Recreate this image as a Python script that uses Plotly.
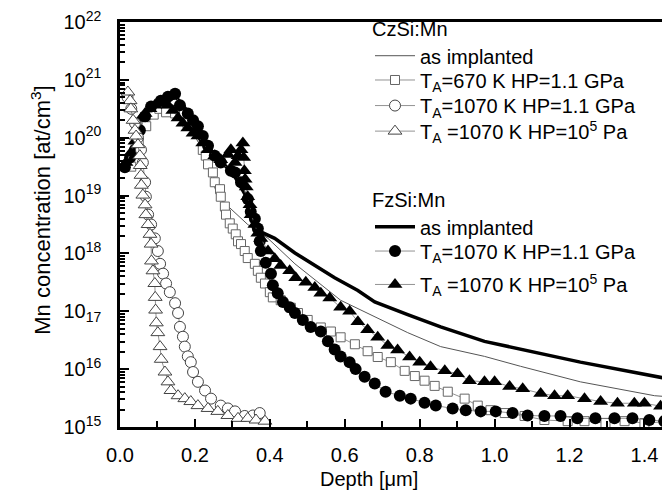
import plotly.graph_objects as go

# ---------------- data ----------------
# CzSi:Mn as implanted (thin line)
cz_imp_x = [0.18, 0.22, 0.261, 0.341, 0.395, 0.467, 0.589, 0.68, 0.768, 0.856, 0.973, 1.069, 1.229, 1.427, 1.49]
cz_imp_y = [1.78e20, 6.31e19, 9.55e18, 3.16e18, 1.82e18, 6.61e17, 1.55e17, 7.94e16, 4.27e16, 2.45e16, 1.66e16, 1.12e16, 6.03e15, 3.47e15, 3.24e15]

# CzSi:Mn TA=670 K HP=1.1 GPa (open squares)
cz670_x = [0.03, 0.05, 0.07, 0.09, 0.105, 0.123, 0.147, 0.18, 0.221, 0.229, 0.235, 0.248, 0.253, 0.267, 0.269,
           0.28, 0.283, 0.293, 0.301, 0.309, 0.315, 0.323, 0.333, 0.341, 0.36, 0.368, 0.376, 0.387, 0.40, 0.408,
           0.429, 0.456, 0.475, 0.501, 0.536, 0.563, 0.589, 0.627, 0.661, 0.688, 0.723, 0.76, 0.787, 0.813, 0.84,
           0.875, 0.92, 0.955, 0.989, 1.027, 1.08, 1.133, 1.195, 1.24, 1.296, 1.347, 1.40, 1.461]
cz670_y = [3.16e19, 7.94e19, 1.58e20, 2.51e20, 3.16e20, 2.75e20, 2.63e20, 1.78e20, 6.17e19, 4.90e19, 3.47e19, 2.51e19, 1.70e19, 1.29e19, 9.55e18,
           6.46e18, 4.68e18, 3.31e18, 2.69e18, 2.14e18, 1.62e18, 1.45e18, 1.10e18, 8.32e17, 6.61e17, 5.01e17, 3.80e17, 3.02e17, 2.14e17, 1.74e17,
           1.55e17, 1.15e17, 9.33e16, 7.08e16, 5.25e16, 4.47e16, 3.55e16, 2.69e16, 2.04e16, 1.62e16, 1.32e16, 9.33e15, 7.59e15, 6.31e15, 5.13e15,
           4.07e15, 3.09e15, 2.34e15, 1.95e15, 1.74e15, 1.55e15, 1.32e15, 1.26e15, 1.26e15, 1.17e15, 1.26e15, 1.17e15, 1.23e15]

# CzSi:Mn TA=1070 K HP=1.1 GPa (open circles)
cz1070hp_x = [0.02, 0.03, 0.04, 0.048, 0.056, 0.061, 0.067, 0.069, 0.075, 0.083, 0.093, 0.101, 0.107, 0.115, 0.123,
              0.133, 0.147, 0.155, 0.16, 0.168, 0.173, 0.181, 0.189, 0.195, 0.208, 0.227, 0.243, 0.269, 0.288, 0.307,
              0.333, 0.355, 0.373]
cz1070hp_y = [5.01e20, 3.16e20, 1.78e20, 1.0e20, 6.17e19, 3.72e19, 1.70e19, 9.55e18, 4.68e18, 3.16e18, 1.82e18, 1.10e18, 6.61e17, 4.47e17, 3.02e17,
              2.14e17, 1.38e17, 9.33e16, 5.37e16, 3.63e16, 2.45e16, 1.66e16, 1.32e16, 8.91e15, 6.03e15, 4.27e15, 3.09e15, 2.34e15, 2.09e15, 1.86e15,
              1.55e15, 1.58e15, 1.74e15]

# CzSi:Mn TA=1070 K HP=10^5 Pa (open triangles)
cz1070at_x = [0.021, 0.027, 0.029, 0.035, 0.04, 0.043, 0.048, 0.053, 0.054, 0.056, 0.057, 0.061, 0.067, 0.069, 0.075,
              0.08, 0.083, 0.084, 0.088, 0.093, 0.094, 0.095, 0.097, 0.101, 0.107, 0.11, 0.12, 0.128, 0.136, 0.155,
              0.173, 0.189, 0.208, 0.235, 0.261, 0.288, 0.315, 0.341, 0.363, 0.387]
cz1070at_y = [6.17e20, 4.37e20, 3.16e20, 2.0e20, 1.35e20, 1.07e20, 7.59e19, 4.90e19, 3.31e19, 2.24e19, 1.51e19, 1.02e19, 6.92e18, 4.68e18, 3.16e18,
              2.14e18, 1.45e18, 7.41e17, 5.01e17, 3.02e17, 1.74e17, 1.05e17, 6.31e16, 4.27e16, 2.45e16, 1.48e16, 8.91e15, 6.03e15, 4.27e15, 3.47e15,
              3.09e15, 2.75e15, 2.34e15, 2.09e15, 1.86e15, 1.58e15, 1.41e15, 1.41e15, 1.32e15, 1.26e15]

# FzSi:Mn as implanted (thick line)
fz_imp_x = [0.02, 0.06, 0.10, 0.15, 0.20, 0.25, 0.30, 0.34, 0.373, 0.413, 0.467, 0.52, 0.573, 0.635, 0.68, 0.768, 0.856, 0.973, 1.229, 1.49]
fz_imp_y = [3.55e19, 1.58e20, 3.98e20, 5.01e20, 2.0e20, 5.01e19, 2.51e19, 8.91e18, 2.40e18, 1.82e18, 1.02e18, 6.17e17, 3.80e17, 2.29e17, 1.45e17, 8.71e16, 5.37e16, 3.02e16, 1.32e16, 6.31e15]

# FzSi:Mn TA=1070 K HP=1.1 GPa (filled circles)
fz1070hp_x = [0.013, 0.027, 0.04, 0.053, 0.067, 0.083, 0.109, 0.128, 0.147, 0.16, 0.181, 0.195, 0.208, 0.221, 0.235,
              0.253, 0.269, 0.296, 0.307, 0.323, 0.341, 0.349, 0.36, 0.368, 0.373, 0.376, 0.389, 0.403, 0.408, 0.421,
              0.435, 0.453, 0.467, 0.488, 0.509, 0.536, 0.555, 0.573, 0.589, 0.613, 0.629, 0.653, 0.68, 0.709, 0.747,
              0.776, 0.813, 0.843, 0.888, 0.923, 0.963, 1.003, 1.048, 1.088, 1.133, 1.176, 1.221, 1.269, 1.32, 1.368,
              1.413, 1.453]
fz1070hp_y = [3.09e19, 4.57e19, 6.17e19, 1.35e20, 2.34e20, 3.47e20, 4.37e20, 5.13e20, 5.75e20, 3.63e20, 2.63e20, 2.0e20, 1.58e20, 1.07e20, 7.24e19,
              4.90e19, 3.72e19, 2.69e19, 2.51e19, 1.70e19, 8.71e18, 5.25e18, 3.98e18, 2.69e18, 1.62e18, 1.10e18, 6.92e17, 4.47e17, 2.82e17, 2.04e17,
              1.45e17, 1.17e17, 9.33e16, 7.08e16, 5.37e16, 4.47e16, 3.02e16, 2.19e16, 1.66e16, 1.32e16, 1.0e16, 7.41e15, 5.62e15, 4.07e15, 3.47e15,
              3.09e15, 2.63e15, 2.34e15, 2.09e15, 1.95e15, 1.86e15, 1.86e15, 1.74e15, 1.58e15, 1.55e15, 1.55e15, 1.41e15, 1.41e15, 1.41e15, 1.41e15,
              1.32e15, 1.26e15]

# FzSi:Mn TA=1070 K HP=10^5 Pa (filled triangles)
fz1070at_x = [0.016, 0.029, 0.04, 0.048, 0.056, 0.067, 0.08, 0.093, 0.109, 0.128, 0.141, 0.155, 0.168, 0.181, 0.195,
              0.208, 0.221, 0.235, 0.253, 0.269, 0.288, 0.296, 0.307, 0.315, 0.323, 0.328, 0.33, 0.332, 0.334, 0.337,
              0.341, 0.347, 0.35, 0.36, 0.368, 0.376, 0.395, 0.413, 0.429, 0.453, 0.469, 0.496, 0.52, 0.536, 0.56,
              0.589, 0.613, 0.635, 0.661, 0.688, 0.715, 0.741, 0.773, 0.80, 0.829, 0.867, 0.901, 0.933, 0.973, 1.0,
              1.04, 1.075, 1.123, 1.16, 1.195, 1.24, 1.283, 1.328, 1.373, 1.40, 1.443, 1.48]
fz1070at_y = [3.72e19, 5.50e19, 8.71e19, 1.48e20, 2.14e20, 2.63e20, 3.16e20, 3.63e20, 3.89e20, 3.63e20, 2.95e20, 2.19e20, 1.78e20, 1.48e20, 1.20e20,
              1.07e20, 8.13e19, 6.17e19, 4.90e19, 4.17e19, 5.13e19, 6.17e19, 3.72e19, 4.90e19, 6.17e19, 8.13e19, 4.57e19, 2.69e19, 1.91e19, 1.41e19,
              9.55e18, 6.92e18, 4.68e18, 3.16e18, 2.24e18, 1.82e18, 1.10e18, 8.13e17, 6.17e17, 5.01e17, 3.80e17, 3.16e17, 2.57e17, 2.04e17, 1.70e17,
              1.17e17, 1.0e17, 6.61e16, 4.79e16, 3.55e16, 2.57e16, 2.14e16, 1.62e16, 1.32e16, 1.10e16, 9.33e15, 8.32e15, 6.31e15, 6.03e15, 6.03e15,
              5.01e15, 4.57e15, 3.80e15, 3.47e15, 3.47e15, 3.09e15, 2.75e15, 2.57e15, 2.57e15, 2.57e15, 2.29e15, 2.09e15]

y_tick_vals = [1e15, 1e16, 1e17, 1e18, 1e19, 1e20, 1e21, 1e22]
y_tick_text = ["10<sup>15</sup>", "10<sup>16</sup>", "10<sub>17</sub>", "10<sup>18</sup>",
               "10<sup>19</sup>", "10<sup>20</sup>", "10<sup>21</sup>", "10<sup>22</sup>"]
x_tick_vals = [0.0, 0.2, 0.4, 0.6, 0.8, 1.0, 1.2, 1.4]
x_tick_text = ["0.0", "0.2", "0.4", "0.6", "0.8", "1.0", "1.2", "1.4"]

FONT = "Liberation Sans, Arial, sans-serif"

fig = go.Figure()

# lines first (drawn below markers)
fig.add_trace(go.Scatter(x=cz_imp_x, y=cz_imp_y, mode="lines", name="as implanted",
                         line=dict(color="#555555", width=1), legend="legend"))
fig.add_trace(go.Scatter(x=fz_imp_x, y=fz_imp_y, mode="lines", name="as implanted",
                         line=dict(color="black", width=3.5), legend="legend2"))

fig.add_trace(go.Scatter(x=cz670_x, y=cz670_y, mode="lines+markers",
                         name="T<sub>A</sub>=670 K HP=1.1 GPa",
                         line=dict(color="#777777", width=0.8),
                         marker=dict(symbol="square", size=9, color="white",
                                     line=dict(color="#666666", width=1)),
                         legend="legend3", cliponaxis=False))
fig.add_trace(go.Scatter(x=fz1070hp_x, y=fz1070hp_y, mode="lines+markers",
                         name="T<sub>A</sub>=1070 K HP=1.1 GPa",
                         line=dict(color="#777777", width=0.8),
                         marker=dict(symbol="circle", size=12, color="black",
                                     line=dict(color="black", width=0)),
                         legend="legend6", cliponaxis=False))
fig.add_trace(go.Scatter(x=fz1070at_x, y=fz1070at_y, mode="lines+markers",
                         name="T<sub>A</sub> =1070 K HP=10<sup>5</sup> Pa",
                         line=dict(color="#777777", width=0.8),
                         marker=dict(symbol="triangle-up", size=13, color="black",
                                     line=dict(color="black", width=0)),
                         legend="legend7", cliponaxis=False))
fig.add_trace(go.Scatter(x=cz1070hp_x, y=cz1070hp_y, mode="lines+markers",
                         name="T<sub>A</sub>=1070 K HP=1.1 GPa",
                         line=dict(color="#777777", width=0.8),
                         marker=dict(symbol="circle", size=11, color="white",
                                     line=dict(color="#444444", width=1)),
                         legend="legend4", cliponaxis=False))
fig.add_trace(go.Scatter(x=cz1070at_x, y=cz1070at_y, mode="lines+markers",
                         name="T<sub>A</sub> =1070 K HP=10<sup>5</sup> Pa",
                         line=dict(color="#777777", width=0.8),
                         marker=dict(symbol="triangle-up", size=12, color="white",
                                     line=dict(color="#444444", width=1)),
                         legend="legend5", cliponaxis=False))

L, R, T, B = 112, 0, 7, 71
W, H = 670, 490
pw, ph = W - L - R, H - T - B

minor_y = [float(m) * 10.0 ** e for e in range(15, 22) for m in range(2, 10)]
LEG_FS = 20
TICK_FS = 20
LEG_X = (362 - L) / pw


def py(pix):
    """convert a pixel row in the figure to paper y"""
    return (H - B - pix) / ph


def leg_title(text, top):
    return dict(
        title=dict(text=text, font=dict(size=LEG_FS, family=FONT)),
        x=LEG_X, y=py(top), xanchor="left", yanchor="top",
        bgcolor="rgba(0,0,0,0)", borderwidth=0, font=dict(size=LEG_FS, family=FONT),
        traceorder="normal", itemwidth=40, tracegroupgap=0,
    )


def leg_row(center):
    return dict(
        x=LEG_X, y=py(center), xanchor="left", yanchor="middle",
        bgcolor="rgba(0,0,0,0)", borderwidth=0, font=dict(size=LEG_FS, family=FONT),
        traceorder="normal", itemwidth=40, tracegroupgap=0,
    )


fig.update_layout(
    width=W, height=H,
    margin=dict(l=L, r=R, t=T, b=B),
    paper_bgcolor="white", plot_bgcolor="white",
    font=dict(family=FONT, size=19, color="black"),
    showlegend=True,
    legend=leg_title("CzSi:Mn", -5),
    legend3=leg_row(66),
    legend4=leg_row(92),
    legend5=leg_row(118),
    legend2=leg_title("FzSi:Mn", 169),
    legend6=leg_row(240),
    legend7=leg_row(274),
    xaxis=dict(
        range=[0, (W - L) / 374.6], showgrid=False, zeroline=False,
        showline=True, linecolor="black", linewidth=2.5, mirror=True,
        tickmode="array", tickvals=x_tick_vals, ticktext=x_tick_text,
        ticks="inside", ticklen=8, tickwidth=2, tickcolor="black",
        ticklabelstandoff=8, ticklabeloverflow="allow",
        minor=dict(tickvals=[0.1, 0.3, 0.5, 0.7, 0.9, 1.1, 1.3], ticks="inside",
                   ticklen=6, tickwidth=1.5, tickcolor="black", showgrid=False),
        tickfont=dict(size=TICK_FS, family=FONT),
    ),
    yaxis=dict(
        type="log", range=[14.9995, 22.0005], showgrid=False, zeroline=False,
        showline=True, linecolor="black", linewidth=2.5, mirror=False,
        tickmode="array", tickvals=y_tick_vals, ticktext=y_tick_text,
        ticks="inside", ticklen=9, tickwidth=2, tickcolor="black",
        ticklabelstandoff=12, ticklabeloverflow="allow",
        minor=dict(tickvals=minor_y,
                   ticks="inside", ticklen=5, tickwidth=1.5, tickcolor="black", showgrid=False),
        tickfont=dict(size=TICK_FS, family=FONT),
    ),
    annotations=[
        dict(text="Depth [μm]", xref="paper", yref="paper",
             x=(361 - L) / pw, y=-(472 - (H - B)) / ph, xanchor="center", yanchor="middle",
             showarrow=False, font=dict(size=20, family=FONT)),
        dict(text="Mn concentration [at/cm<sup>3</sup>]", xref="paper", yref="paper",
             x=-(L - 33) / pw, y=((H - B) - 199) / ph, xanchor="center", yanchor="middle",
             textangle=-90, showarrow=False, font=dict(size=22, family=FONT)),
    ],
)

fig.write_html("out.html")
